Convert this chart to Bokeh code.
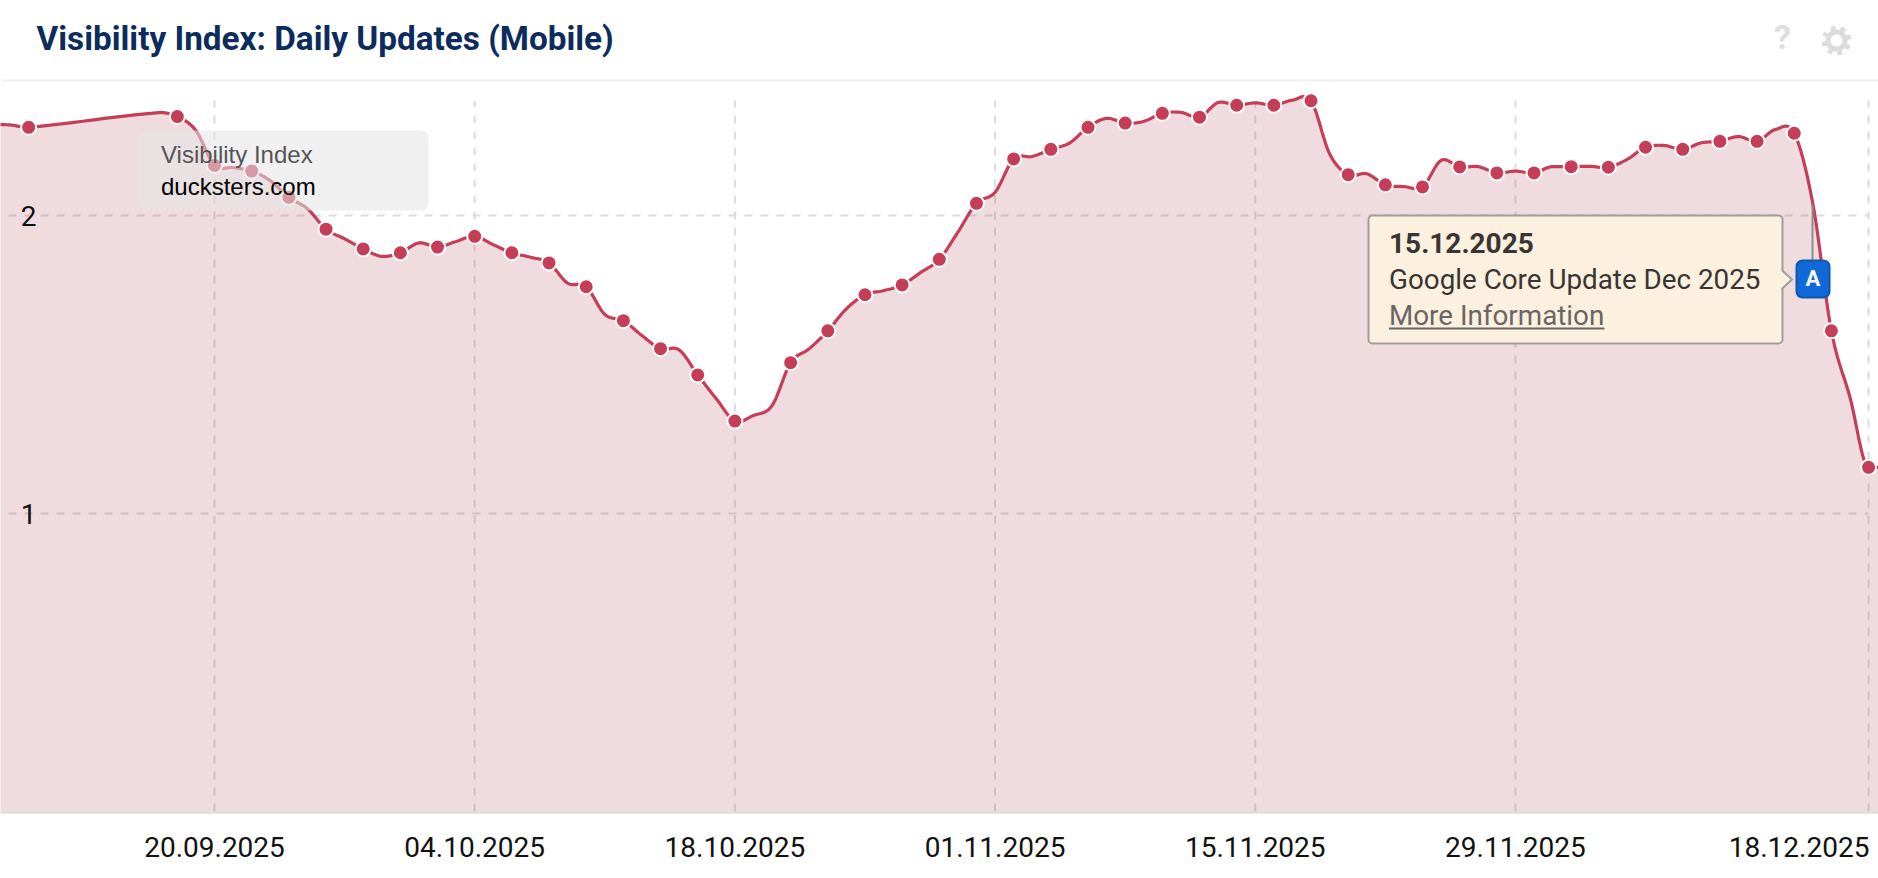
import numpy as np
import pandas as pd
from bokeh.plotting import figure
from bokeh.embed import file_html
from bokeh.resources import INLINE
from bokeh.models import (Range1d, FixedTicker, Label, BoxAnnotation, PolyAnnotation)

# ---------------- data ----------------
TITLE = "Visibility Index: Daily Updates (Mobile)"
line_dates = ["08.09.2025","09.09.2025","10.09.2025","17.09.2025","18.09.2025","19.09.2025","20.09.2025","21.09.2025","22.09.2025","23.09.2025","24.09.2025","25.09.2025","26.09.2025","27.09.2025","28.09.2025","29.09.2025","30.09.2025",
 "01.10.2025","02.10.2025","03.10.2025","04.10.2025","05.10.2025","06.10.2025","07.10.2025","08.10.2025","09.10.2025","10.10.2025","11.10.2025","12.10.2025","13.10.2025","14.10.2025","15.10.2025","16.10.2025","17.10.2025","18.10.2025","19.10.2025","20.10.2025","21.10.2025","22.10.2025","23.10.2025","24.10.2025","25.10.2025","26.10.2025","27.10.2025","28.10.2025","29.10.2025","30.10.2025","31.10.2025",
 "01.11.2025","02.11.2025","03.11.2025","04.11.2025","05.11.2025","06.11.2025","07.11.2025","08.11.2025","09.11.2025","10.11.2025","11.11.2025","12.11.2025","13.11.2025","14.11.2025","15.11.2025","16.11.2025","17.11.2025","18.11.2025","19.11.2025","20.11.2025","21.11.2025","22.11.2025","23.11.2025","24.11.2025","25.11.2025","26.11.2025","27.11.2025","28.11.2025","29.11.2025","30.11.2025",
 "01.12.2025","02.12.2025","03.12.2025","04.12.2025","05.12.2025","06.12.2025","07.12.2025","08.12.2025","09.12.2025","10.12.2025","11.12.2025","12.12.2025","13.12.2025","14.12.2025","15.12.2025","16.12.2025","17.12.2025","18.12.2025","19.12.2025"]
line_values = [2.305,2.304,2.296,2.345,2.332,2.285,2.168,2.161,2.149,2.117,2.061,2.023,1.954,1.922,1.888,1.863,1.875,
 1.908,1.894,1.913,1.930,1.902,1.875,1.860,1.841,1.773,1.761,1.668,1.647,1.597,1.553,1.549,1.465,1.385,1.310,1.329,1.362,1.506,1.553,1.613,1.687,1.734,1.748,1.767,1.809,1.853,1.944,2.041,
 2.078,2.190,2.198,2.222,2.243,2.296,2.326,2.310,2.316,2.343,2.346,2.330,2.379,2.370,2.378,2.370,2.387,2.385,2.207,2.137,2.140,2.103,2.097,2.096,2.185,2.163,2.164,2.143,2.149,2.143,
 2.164,2.164,2.165,2.162,2.188,2.229,2.235,2.222,2.244,2.249,2.265,2.249,2.289,2.276,2.040,1.613,1.390,1.155,1.155]
dot_dates = ["10.09.2025","18.09.2025","20.09.2025","22.09.2025","24.09.2025","26.09.2025","28.09.2025","30.09.2025",
 "02.10.2025","04.10.2025","06.10.2025","08.10.2025","10.10.2025","12.10.2025","14.10.2025","16.10.2025","18.10.2025","21.10.2025","23.10.2025","25.10.2025","27.10.2025","29.10.2025","31.10.2025",
 "02.11.2025","04.11.2025","06.11.2025","08.11.2025","10.11.2025","12.11.2025","14.11.2025","16.11.2025","18.11.2025","20.11.2025","22.11.2025","24.11.2025","26.11.2025","28.11.2025","30.11.2025",
 "02.12.2025","04.12.2025","06.12.2025","08.12.2025","10.12.2025","12.12.2025","14.12.2025","16.12.2025","18.12.2025"]
tick_dates = ["20.09.2025","04.10.2025","18.10.2025","01.11.2025","15.11.2025","29.11.2025","18.12.2025"]
y_ticks = [1, 2]

# ---------------- helpers ----------------
BASE = pd.Timestamp(2025, 9, 20)
def day(s):
    return int((pd.to_datetime(s, format="%d.%m.%Y") - BASE).days)

def smooth(xs, ys, n=12):
    """Catmull-Rom rendering of the curve through the read values."""
    xs, ys = np.asarray(xs, float), np.asarray(ys, float)
    m = np.zeros_like(ys)
    m[1:-1] = (ys[2:] - ys[:-2]) / (xs[2:] - xs[:-2])
    m[0] = (ys[1] - ys[0]) / (xs[1] - xs[0])
    m[-1] = (ys[-1] - ys[-2]) / (xs[-1] - xs[-2])
    m[:-1][ys[1:] == ys[:-1]] = 0.0   # flat where the value repeats
    ox, oy = [], []
    for i in range(len(xs) - 1):
        h = xs[i + 1] - xs[i]
        for t in np.linspace(0, 1, n, endpoint=False):
            a = 2*t**3 - 3*t**2 + 1; b = t**3 - 2*t**2 + t
            c = -2*t**3 + 3*t**2; d = t**3 - t**2
            ox.append(xs[i] + t*h)
            oy.append(a*ys[i] + b*h*m[i] + c*ys[i+1] + d*h*m[i+1])
    ox.append(xs[-1]); oy.append(ys[-1])
    return np.array(ox), np.array(oy)

LINE = "#c53d56"
W, H = 1878, 878
FRAME_H = 812
PX_DAY = 18.585
X0_PX = 214.0
PX_UNIT = 298.0
Y0_PX = 811.0

p = figure(width=W, height=H, output_backend="svg", toolbar_location=None,
           x_range=Range1d(-X0_PX/PX_DAY, (W-X0_PX)/PX_DAY),
           y_range=Range1d((Y0_PX-FRAME_H)/PX_UNIT, Y0_PX/PX_UNIT),
           min_border_left=0, min_border_right=0, min_border_top=0, min_border_bottom=H-FRAME_H,
           background_fill_color="white", border_fill_color="white", outline_line_color=None)
p.styles = {"position": "absolute", "left": "0px", "top": "0px", "border-radius": "12px", "overflow": "hidden"}
p.grid.visible = False

ticks = [day(d) for d in tick_dates]
lx = [day(d) for d in line_dates]
lookup = dict(zip(line_dates, line_values))
sx, sy = smooth(lx, line_values)

# axes: the last date's label is centred left of its own grid line, so that it ends on it
last_label_pos = round(ticks[-1] - 69.5 / PX_DAY, 2)
label_ticks = ticks[:-1] + [last_label_pos]
xa = p.xaxis[0]
xa.ticker = FixedTicker(ticks=label_ticks)
xa.major_label_overrides = {t: tick_dates[i] for i, t in enumerate(label_ticks)}
xa.major_label_text_font = "Roboto"
xa.major_label_text_font_size = "28px"
xa.major_label_text_color = "#111111"
xa.major_label_standoff = 18
xa.major_tick_line_color = None
xa.minor_tick_line_color = None
xa.axis_line_color = "#dcd8da"
xa.axis_line_width = 2

ya = p.yaxis[0]
ya.ticker = FixedTicker(ticks=y_ticks)
ya.fixed_location = (45 - X0_PX) / PX_DAY
ya.major_label_text_font = "Roboto"
ya.major_label_text_font_size = "28px"
ya.major_label_text_color = "#111111"
ya.major_label_standoff = 3
ya.major_tick_line_color = None
ya.minor_tick_line_color = None
ya.axis_line_color = None
ya.major_label_overrides = {1: "1", 2: "2"}

# grid lines, then area, line and dots
GRID = "#dcdcdc"
top_v = (Y0_PX - 100) / PX_UNIT
p.segment(x0=ticks, y0=[0]*len(ticks), x1=ticks, y1=[top_v]*len(ticks), line_color=GRID, line_width=2, line_dash="8 8")
left_d, right_d = (8 - X0_PX)/PX_DAY, ticks[-1]
p.segment(x0=[left_d]*len(y_ticks), y0=y_ticks, x1=[right_d]*len(y_ticks), y1=y_ticks, line_color=GRID, line_width=2, line_dash="8 8")
p.varea(x=sx, y1=np.zeros_like(sy), y2=sy, fill_color="#ac3d4d", fill_alpha=0.18)
p.line(sx, sy, line_color=LINE, line_width=3.2)
p.scatter([day(d) for d in dot_dates], [lookup[d] for d in dot_dates], size=15, marker="circle",
          fill_color=LINE, line_color="white", line_width=2)

SHIFT = 0.37  # Label draws below the given y by this share of the font size

def txt(x, y, s, size, color, font="Roboto", style="normal", align="left"):
    p.add_layout(Label(x=x, y=y - SHIFT*size, x_units="canvas", y_units="canvas", text=s, text_font=font,
                       text_font_size=f"{size}px", text_color=color, text_font_style=style,
                       text_align=align, text_baseline="alphabetic"))

def box(l, r, t, b, fill, alpha=1.0, line=None, lw=0, rad=0):
    p.add_layout(BoxAnnotation(left=l, right=r, top=t, bottom=b, left_units="canvas", right_units="canvas",
                               top_units="canvas", bottom_units="canvas", fill_color=fill, fill_alpha=alpha,
                               line_color=line, line_alpha=1, line_width=lw, border_radius=rad))

def poly(xs, ys, fill):
    p.add_layout(PolyAnnotation(xs=list(xs), ys=list(ys), xs_units="canvas", ys_units="canvas",
                                fill_color=fill, fill_alpha=1, line_color=None))

# header
box(0, W, 79, 81, "#f1f1f1")
txt(36, 50, TITLE, 33.3, "#0c2c5e", style="bold")
txt(1782, 49, "?", 34, "#dedede", style="bold", align="center")
ang = np.linspace(0, 2*np.pi, 96, endpoint=False)
rr = np.where(((ang*8/(2*np.pi)) % 1 < 0.45), 15, 11)
poly(1836 + rr*np.sin(ang+0.1), 40 + rr*np.cos(ang+0.1), "#dcdcdc")
poly(1836 + 6*np.sin(ang), 40 + 6*np.cos(ang), "white")

# series tag
box(138.5, 428, 130, 210, "#e5e5e5", alpha=0.56, rad=8)
txt(160.5, 163, "Visibility Index", 24, "#555555", font="Liberation Sans")
txt(160.5, 195, "ducksters.com", 24, "#000000", font="Liberation Sans")

# event flag and note
box(1811, 1813, 204, 262, "#8c8c8c")
box(1368, 1782, 215, 343, "#fcf0de", line="#9e9e9e", lw=2, rad=4)
poly([1781, 1793, 1781], [268, 279, 290], "#9e9e9e")
poly([1778, 1790, 1778], [268, 279, 290], "#fcf0de")
txt(1388.5, 253, "15.12.2025", 28, "#3a3535", style="bold")
txt(1388.5, 289, "Google Core Update Dec 2025", 27.8, "#3a3535")
txt(1388.5, 325, "More Information", 27.8, "#6b6666")
box(1388.5, 1604, 327, 329, "#6b6666")
box(1796, 1829, 260, 297, "#1168d8", line="#0e5aa8", lw=2, rad=6)
txt(1812.5, 286, "A", 22, "white", style="bold", align="center")

open("out.html", "w").write(file_html(p, INLINE))
